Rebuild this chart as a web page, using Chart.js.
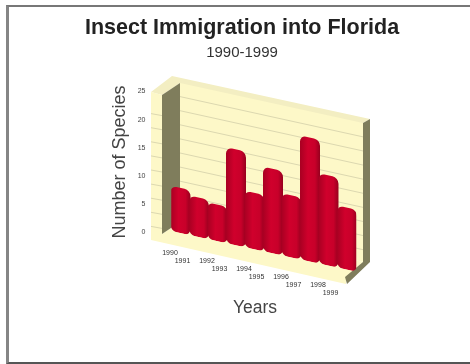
<!DOCTYPE html>
<html>
<head>
<meta charset="utf-8">
<style>
  html, body { margin: 0; padding: 0; background: #fff; overflow: hidden; width: 470px; height: 364px; }
  #frame { position: absolute; left: 6px; top: 5px; width: 464px; height: 359px; box-sizing: border-box;
           border-left: 3px solid #858585; border-top: 2px solid #777; border-bottom: 2px solid #555; pointer-events: none; }
  canvas { position: absolute; left: 0; top: 0; }
</style>
<script src="https://cdn.jsdelivr.net/npm/chart.js@4"></script>
</head>
<body>
<canvas id="chart" width="484" height="364" style="width:484px;height:364px"></canvas>
<div id="frame"></div>
<script>
// Species counts per year
const years = ['1990','1991','1992','1993','1994','1995','1996','1997','1998','1999'];
const species = [8, 7, 6.5, 17, 10, 15, 11, 22, 16, 11];
const yTicks = [0, 5, 10, 15, 20, 25];
const wallLines = [2.5, 5, 7.5, 10, 12.5, 15, 17.5, 20, 22.5];

// Oblique projection of the plotting box
const SHEAR = 0.22;          // vertical drift per pixel of horizontal travel
const DEPTH_X = 8.75;        // bars stand this far behind the axis plane
const WALL_RISE = 9;         // back wall sits this far above the axis plane
const FONT = '"Liberation Sans", Arial, sans-serif';
const PALE = '#fdf8c8', OLIVE = '#7f7d5c', LINE = '#dcd8b0';

function poly(ctx, pts, fill) {
  ctx.beginPath();
  pts.forEach((p, i) => i ? ctx.lineTo(p[0], p[1]) : ctx.moveTo(p[0], p[1]));
  ctx.closePath();
  ctx.fillStyle = fill;
  ctx.fill();
}

// Walls, floor and gridlines go under the bars; the bars are sheared onto the floor
const boxPlugin = {
  id: 'obliqueBox',
  beforeDatasetsDraw(chart) {
    const { ctx } = chart;
    const y = chart.scales.y;

    ctx.save();
    poly(ctx, [[180, 81], [363, 121], [363, 262], [180, 222]], PALE);
    poly(ctx, [[151, 92], [172, 76], [370, 119], [363, 123], [180, 83], [162, 95]], '#f3eec2');
    poly(ctx, [[151, 92], [162, 95], [162, 234], [180, 222], [363, 262], [346, 278], [346, 284], [151, 240]], PALE);
    poly(ctx, [[162, 95], [180, 83], [180, 222], [162, 234]], OLIVE);
    poly(ctx, [[363, 123], [370, 119], [370, 262], [347, 284], [345, 277], [363, 262]], OLIVE);

    ctx.strokeStyle = LINE;
    ctx.lineWidth = 1;
    wallLines.forEach(v => {
      const py = y.getPixelForValue(v) - WALL_RISE;
      ctx.beginPath();
      ctx.moveTo(180, py);
      ctx.lineTo(363, py + SHEAR * 183);
      ctx.moveTo(151, py + 17);
      ctx.lineTo(162, py + 19);
      ctx.stroke();
    });
    ctx.restore();

    ctx.save();
    ctx.transform(1, SHEAR, 0, 1, DEPTH_X, -SHEAR * (180 - DEPTH_X) + 0.5);
  },
  afterDatasetsDraw(chart) {
    chart.ctx.restore();
    const { ctx } = chart;
    const x = chart.scales.x, y = chart.scales.y;
    // staggered year labels that follow the floor edge
    ctx.save();
    ctx.font = '7px ' + FONT;
    ctx.fillStyle = '#333';
    ctx.textAlign = 'center';
    ctx.textBaseline = 'middle';
    years.forEach((label, i) => {
      const px = x.getPixelForTick(i) + DEPTH_X;
      const base = y.getPixelForValue(0) + SHEAR * (px - 180);
      const odd = i % 2 === 1;
      ctx.fillText(label, px + (odd ? -16.5 : -10.5), base + (odd ? 24 : 20));
    });
    ctx.restore();
  }
};

// Horizontal shading that makes each bar read as a rounded column
function barFill(context) {
  const { chart, dataIndex } = context;
  const x = chart.scales.x;
  const centre = x ? x.getPixelForValue(dataIndex) : NaN;
  if (!Number.isFinite(centre)) return '#c8002a';
  const g = chart.ctx.createLinearGradient(centre - 10, 0, centre + 10, 0);
  g.addColorStop(0, '#a80022');
  g.addColorStop(0.4, '#d0002c');
  g.addColorStop(0.75, '#c8002a');
  g.addColorStop(1, '#96001e');
  return g;
}

new Chart(document.getElementById('chart'), {
  type: 'bar',
  data: {
    labels: years,
    datasets: [{
      data: species,
      yAxisID: 'y',
      backgroundColor: barFill,
      borderRadius: 6,
      borderSkipped: false,
      barPercentage: 1,
      categoryPercentage: 1.08
    }]
  },
  plugins: [boxPlugin],
  options: {
    responsive: false,
    animation: false,
    events: [],
    layout: { padding: { left: 30, right: 30, top: 0, bottom: 45.5 } },
    plugins: {
      legend: { display: false },
      tooltip: { enabled: false },
      title: {
        display: true,
        text: 'Insect Immigration into Florida',
        color: '#222',
        font: { family: FONT, size: 21.5, weight: 'bold' },
        padding: { top: 15, bottom: 0 }
      },
      subtitle: {
        display: true,
        text: '1990-1999',
        color: '#333',
        font: { family: FONT, size: 15, weight: 'normal' },
        padding: { top: 3.2, bottom: 29.5 }
      }
    },
    scales: {
      x: {
        type: 'category',
        grid: { display: false },
        border: { display: false },
        ticks: { display: false },
        title: { display: true, text: 'Years', color: '#444',
                 font: { family: FONT, size: 17.5 }, padding: { top: 57, bottom: 0 } }
      },
      y: {
        min: 0,
        max: 25,
        grid: { display: false },
        border: { display: false },
        afterFit(s) { s.width = 132.5; },
        afterBuildTicks(s) { s.ticks = yTicks.map(v => ({ value: v })); },
        ticks: { color: '#444', font: { family: FONT, size: 7 }, padding: 9, autoSkip: false },
        title: { display: true, text: 'Number of Species', color: '#444',
                 font: { family: FONT, size: 18 }, padding: { top: 79.2, bottom: 0 } }
      },
      // empty right-hand gutter: keeps the heading centred on the page, not on the plot
      gutter: {
        position: 'right',
        min: 0,
        max: 25,
        grid: { display: false },
        border: { display: false },
        ticks: { display: false },
        afterFit(s) { s.width = 106.5; }
      }
    }
  }
});
</script>
</body>
</html>
